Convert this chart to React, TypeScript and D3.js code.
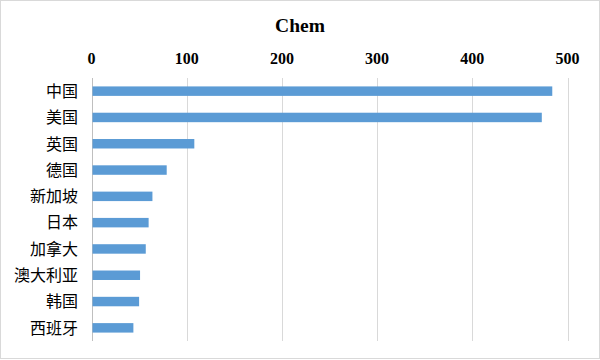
import React from "react";
import * as d3 from "d3";

const categories = ["中国", "美国", "英国", "德国", "新加坡", "日本", "加拿大", "澳大利亚", "韩国", "西班牙"];
const values = [484, 473, 108, 79, 64, 60, 57, 51, 50, 44];
const ticks = [0, 100, 200, 300, 400, 500];
const title = "Chem";

export default function App() {
  const W = 600, H = 360;
  const x = d3.scaleLinear().domain([0, 500]).range([91.5, 567.5]);
  const y = d3.scaleBand<string>().domain(categories).range([78, 341]).paddingInner(0.64).paddingOuter(0.32);
  const serif = "'Liberation Serif', 'Times New Roman', serif";
  return (
    <svg width={W} height={H} style={{ position: "absolute", left: 0, top: 0, background: "#fff" }}>
      <rect x={0.5} y={0.5} width={W - 1} height={H - 2} fill="#fff" stroke="#d9d9d9" />
      <text x={300} y={32} textAnchor="middle" fontFamily={serif} fontWeight="bold" fontSize={19.5} fill="#000">{title}</text>
      {ticks.map((t) => (
        <g key={t}>
          <line x1={Math.round(x(t)) + 0.5} x2={Math.round(x(t)) + 0.5} y1={78} y2={341} stroke={t === 0 ? "#bfbfbf" : "#d9d9d9"} strokeWidth={1} />
          <text x={x(t)} y={64} textAnchor="middle" fontFamily={serif} fontWeight="bold" fontSize={16} fill="#000">{t}</text>
        </g>
      ))}
      {categories.map((c, i) => (
        <g key={c}>
          <rect x={x(0) + 1} y={y(c)!} width={x(values[i]) - x(0) - 1} height={y.bandwidth()} fill="#5b9bd5" />
          <text x={78} y={y(c)! + y.bandwidth() / 2} dy="0.36em" textAnchor="end" fontFamily="'Noto Sans CJK SC', sans-serif" fontSize={16} fill="#000">{c}</text>
        </g>
      ))}
    </svg>
  );
}
